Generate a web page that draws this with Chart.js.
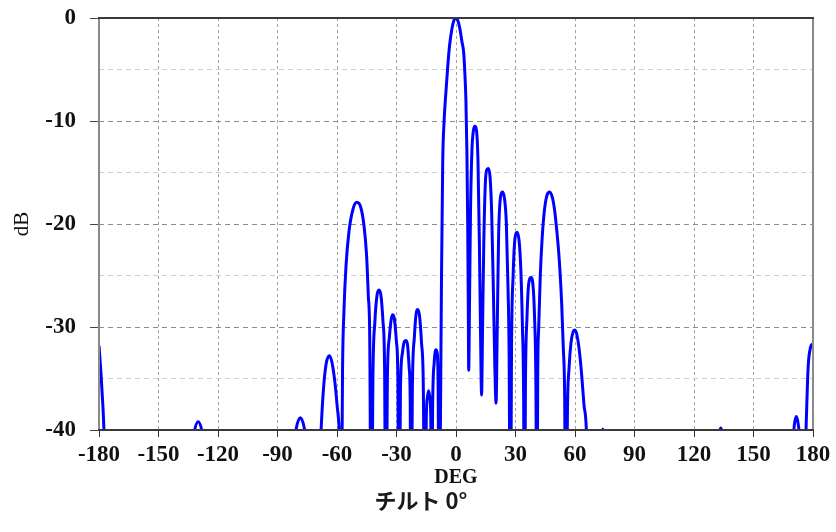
<!DOCTYPE html>
<html>
<head>
<meta charset="utf-8">
<script src="https://cdn.jsdelivr.net/npm/chart.js@4"></script>
<style>
  html, body { margin: 0; padding: 0; background: #fff; }
  #wrap { width: 836px; height: 532px; position: relative; }
</style>
</head>
<body>
<div id="wrap"><canvas id="pattern"></canvas></div>
<script>
const ctx = document.getElementById('pattern')

// antenna pattern (deg / dB), values under -40 fall off the plot
let angles = [
  -180, -179, -178, -177, -170,
  -134, -132, -130, -128, -126, -100,
  -82, -80.5, -78.5, -76.5, -75, -71,
  -68.5, -67, -65.5, -63.8, -62, -60, -58.5, -57.8,
  -57.2, -56.5, -55.5, -54, -52, -50, -48, -46.3, -45.1, -44.2, -43.5, -42.7,
  -41.9, -40.9, -39.8, -38.8, -37.8, -36.8, -36, -35.4,
  -34.6, -33.6, -32.6, -31.8, -31, -30, -29.3, -28.8,
  -28, -27, -26, -25.2, -24.4, -23.6, -23.1, -22.7,
  -22, -21, -20.1, -19.3, -18.4, -17.4, -16.5, -15.6,
  -15, -14.4, -13.8, -13.2, -12.7, -12.3,
  -11.8, -11, -10.2, -9.5, -9, -8.5,
  -7.8, -7.3, -6.7, -6, -5.2, -4.2, -3.2, -2, -1, 0, 1, 2, 3, 3.9, 4.5, 5, 5.5, 5.9, 6.2, 6.4,
  6.8, 7.3, 8, 8.8, 9.6, 10.4, 11.1, 11.8, 12.4, 12.9,
  13.4, 14, 14.8, 15.6, 16.4, 17.2, 18, 18.9, 19.6, 20.2,
  20.8, 21.5, 22.5, 23.5, 24.5, 25.4, 26.2, 26.8, 27.4,
  28, 28.8, 29.8, 30.8, 31.8, 32.7, 33.5, 34.1, 34.5,
  35, 35.8, 36.8, 37.8, 38.8, 39.6, 40.3, 40.8,
  41.2, 41.7, 42.5, 43.4, 44.4, 45.6, 47, 48.4, 49.6, 50.6, 51.6, 52.5, 53.3, 54.1, 54.8, 55.4,
  56.2, 57, 58, 59, 60, 61, 62, 63.3, 64.5, 65.9, 67,
  72.5, 74, 75.5, 100,
  131.5, 133.5, 135.5, 160,
  169.6, 170.6, 171.6, 172.6, 173.6, 175,
  176.2, 176.8, 177.3, 177.8, 178.5, 179.3, 180
]
let gains = [
  -31.8, -34.5, -37.8, -42, -55,
  -43, -40.2, -39.2, -40.2, -43, -55,
  -42, -39.8, -38.8, -39.8, -42, -55,
  -42, -36.5, -33.6, -32.8, -34, -37.5, -42, -50,
  -34, -28.5, -24.2, -20.8, -18.6, -17.9, -18.4, -20.3, -23, -27, -31, -55,
  -35, -29.5, -26.9, -26.4, -27, -29.5, -34, -55,
  -35, -31, -29.2, -28.8, -29.3, -31.5, -35, -55,
  -36, -32.5, -31.4, -31.3, -31.8, -34, -37, -55,
  -36, -31, -28.7, -28.3, -28.9, -31.5, -35.5, -55,
  -39, -36.8, -36.2, -36.8, -39, -55,
  -38, -33.5, -32.2, -32.5, -36, -55,
  -38, -25, -14, -10, -7.5, -4.8, -2.6, -1, -0.2, 0, -0.3, -1.1, -2.3, -3.4, -5.5, -8, -13, -20, -28, -34.2,
  -28, -19, -13, -10.9, -10.5, -11, -14, -22, -31, -36.6,
  -30, -22, -16, -14.7, -14.6, -15.5, -19, -27, -34, -37.4,
  -30, -21, -17.3, -16.9, -17.6, -20, -26, -33, -55,
  -32, -25, -21.3, -20.8, -21.6, -24.5, -30, -37, -55,
  -36, -29, -25.6, -25.2, -25.9, -29, -36, -55,
  -35, -30, -25, -21.5, -19, -17.4, -16.9, -17.3, -18.5, -20.2, -22.3, -24.8, -27.8, -32, -37, -55,
  -38, -34, -31.5, -30.5, -30.3, -30.8, -32, -34.5, -37.5, -41, -55,
  -43, -39.9, -43, -55,
  -42, -39.8, -42, -55,
  -42, -39.5, -38.7, -39.5, -42, -55,
  -42, -38, -35, -33.2, -32.2, -31.7, -31.8
]

let degTicks = [-180, -150, -120, -90, -60, -30, 0, 30, 60, 90, 120, 150, 180]
let dbTicks = [0, -10, -20, -30, -40]
let caption = 'チルト 0°'

const points = angles.map((a, i) => ({ x: a, y: gains[i] }))

const serif = 'Liberation Serif'

// frame round the plot: dark top/bottom, grey sides, plus the caption under the chart
const frame = {
  id: 'frame',
  afterDatasetsDraw(chart) {
    const { left, right, top, bottom } = chart.chartArea
    const c = chart.ctx
    c.save()
    c.setLineDash([])
    c.lineWidth = 2
    c.strokeStyle = '#8a8a8a'
    c.beginPath()
    c.moveTo(left, top); c.lineTo(left, bottom)
    c.moveTo(right, top); c.lineTo(right, bottom)
    c.stroke()
    c.strokeStyle = '#3a3a3a'
    c.beginPath()
    c.moveTo(left - 1, top); c.lineTo(right + 1, top)
    c.moveTo(left - 1, bottom); c.lineTo(right + 1, bottom)
    c.stroke()
    c.restore()
  },
  afterDraw(chart) {
    const c = chart.ctx
    c.save()
    c.font = 'bold 22px "Noto Sans CJK JP"'
    c.fillStyle = '#1a1a1a'
    c.textAlign = 'center'
    c.textBaseline = 'middle'
    c.fillText(caption, chart.width / 2 + 3, chart.height - 31)
    c.restore()
  }
}

new Chart(ctx, {
  type: 'line',
  data: {
    datasets: [{
      data: points,
      borderColor: 'rgb(0, 0, 255)',
      borderWidth: 3,
      pointRadius: 0,
      cubicInterpolationMode: 'monotone',
      fill: false,
    }],
  },
  options: {
    responsive: true,
    maintainAspectRatio: false,
    animation: false,
    layout: { padding: { top: 18, right: 23, left: 0, bottom: 42 } },
    scales: {
      x: {
        type: 'linear',
        min: -180,
        max: 180,
        afterBuildTicks: (scale) => { scale.ticks = degTicks.map(v => ({ value: v })) },
        afterFit: (scale) => {
          scale.height = 60
          scale.paddingLeft = 0
          scale.paddingRight = 0
        },
        grid: {
          color: '#a0a0a0',
          tickColor: '#333',
          tickLength: 7,
          tickBorderDash: [],
        },
        border: { display: false, dash: [3, 3] },
        ticks: {
          autoSkip: false,
          maxRotation: 0,
          padding: 4,
          color: '#111',
          font: { family: serif, size: 23, weight: 'bold' },
        },
        title: {
          display: true,
          text: 'DEG',
          color: '#111',
          padding: { top: 0, bottom: 0 },
          font: { family: serif, size: 20, weight: 'bold' },
        },
      },
      y: {
        min: -40,
        max: 0,
        ticks: {
          stepSize: 5,
          padding: 14,
          color: '#111',
          font: { family: serif, size: 23, weight: 'bold' },
          callback: (v) => dbTicks.includes(v) ? v : '',
        },
        afterFit: (scale) => {
          scale.width = 99
          scale.paddingTop = 0
          scale.paddingBottom = 0
        },
        grid: {
          color: (c) => dbTicks.includes(c.tick.value) ? '#8c8c8c' : '#cfcfcf',
          tickColor: (c) => dbTicks.includes(c.tick.value) ? '#444' : 'rgba(0,0,0,0)',
          tickLength: 9,
          tickBorderDash: [],
        },
        border: { display: false, dash: [5, 4] },
        title: {
          display: true,
          text: 'dB',
          color: '#111',
          padding: { top: 10, bottom: 0 },
          font: { family: serif, size: 21 },
        },
      },
    },
    plugins: {
      legend: { display: false },
      tooltip: { enabled: false },
    },
  },
  plugins: [frame],
})
</script>
</body>
</html>
